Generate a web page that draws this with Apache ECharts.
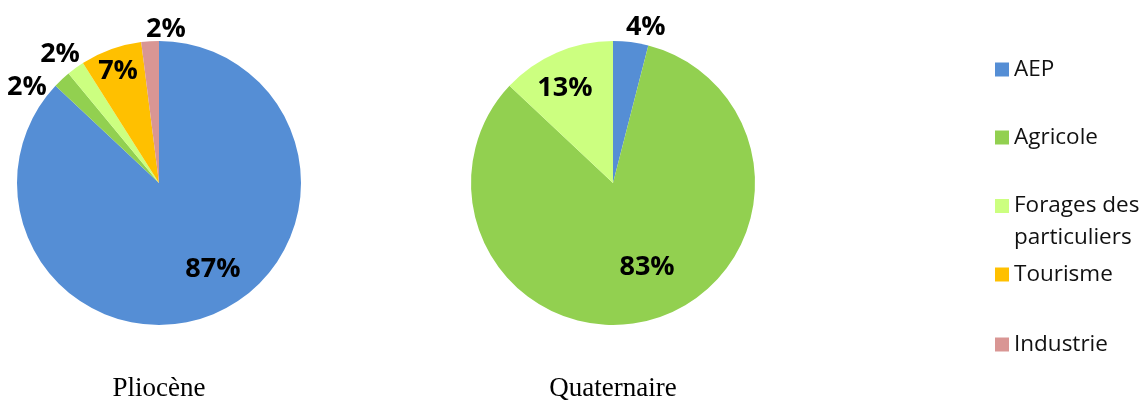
<!DOCTYPE html>
<html>
<head>
<meta charset="utf-8">
<script src="https://cdn.jsdelivr.net/npm/echarts@6/dist/echarts.min.js"></script>
<style>html,body{margin:0;padding:0;background:#fff}#c{width:1141px;height:401px}</style>
</head>
<body>
<div id="c"></div>
<script>
// ---- data ----
var categories = ['AEP', 'Agricole', 'Forages des particuliers', 'Tourisme', 'Industrie'];
var plioceneValues = [87, 2, 2, 7, 2];
var quaternaireCategories = ['AEP', 'Agricole', 'Forages des particuliers'];
var quaternaireValues = [4, 83, 13];
var pieTitles = ['Pliocène', 'Quaternaire'];

// ---- styles ----
var colors = ['#558ED5', '#92D050', '#CCFF80', '#FFC000', '#D99694'];
// label placement: radius fraction and angle shift (deg) per slice
var labelRadius = [[0.715, 1.15, 1.145, 0.84, 1.08], [1.12, 0.64, 0.745]];
var labelShift = [[-8.7, -10.8, -1.5, -0.3, 6.2], [4.7, -5.8, -3.6]];

var chart = echarts.init(document.getElementById('c'));

function build(names, vals) {
  return names.map(function (n, i) { return { name: n, value: vals[i] }; });
}

function labelLayout(p) {
  var data = chart.getModel().getSeriesByIndex(p.seriesIndex).getData();
  var lay = data.getItemLayout(p.dataIndex);
  var mid = (lay.startAngle + lay.endAngle) / 2 + labelShift[p.seriesIndex][p.dataIndex] * Math.PI / 180;
  var k = labelRadius[p.seriesIndex][p.dataIndex];
  return {
    x: lay.cx + Math.cos(mid) * lay.r * k,
    y: lay.cy + Math.sin(mid) * lay.r * k,
    align: 'center',
    verticalAlign: 'middle'
  };
}

var labelCfg = {
  show: true,
  position: 'inside',
  formatter: '{c}%',
  fontFamily: 'Open Sans',
  fontWeight: 'bold',
  fontSize: 27,
  color: '#000'
};

var legendTops = [58, 126, 190, 263, 333];
var legends = categories.map(function (n, i) {
  var l = {
    data: [n],
    orient: 'vertical',
    left: 995,
    top: legendTops[i],
    padding: 0,
    itemWidth: 14,
    itemHeight: 14,
    icon: 'rect',
    selectedMode: false,
    textStyle: { fontFamily: 'Open Sans', fontSize: 22.5, color: '#111' }
  };
  if (n === 'Forages des particuliers') {
    l.formatter = 'Forages des\nparticuliers';
    l.textStyle.lineHeight = 32;
    l.itemHeight = 46;
    l.icon = 'path://M0,0H14V14H0Z M0,46H0.01V46Z';
  }
  return l;
});

var pieCenters = [[159, 183], [613, 183]];

chart.setOption({
  animation: false,
  color: colors,
  title: pieTitles.map(function (t, i) {
    return {
      text: t,
      left: pieCenters[i][0],
      top: 375,
      padding: 0,
      textAlign: 'center',
      textStyle: { fontFamily: 'Liberation Serif', fontWeight: 'normal', fontSize: 27, color: '#000' }
    };
  }),
  legend: legends,
  series: [
    {
      type: 'pie',
      center: pieCenters[0],
      radius: 142,
      startAngle: 90,
      clockwise: true,
      data: build(categories, plioceneValues),
      label: labelCfg,
      labelLine: { show: false },
      labelLayout: labelLayout,
      emphasis: { disabled: true }
    },
    {
      type: 'pie',
      center: pieCenters[1],
      radius: 142,
      startAngle: 90,
      clockwise: true,
      data: build(quaternaireCategories, quaternaireValues),
      label: labelCfg,
      labelLine: { show: false },
      labelLayout: labelLayout,
      emphasis: { disabled: true }
    }
  ]
});
</script>
</body>
</html>
